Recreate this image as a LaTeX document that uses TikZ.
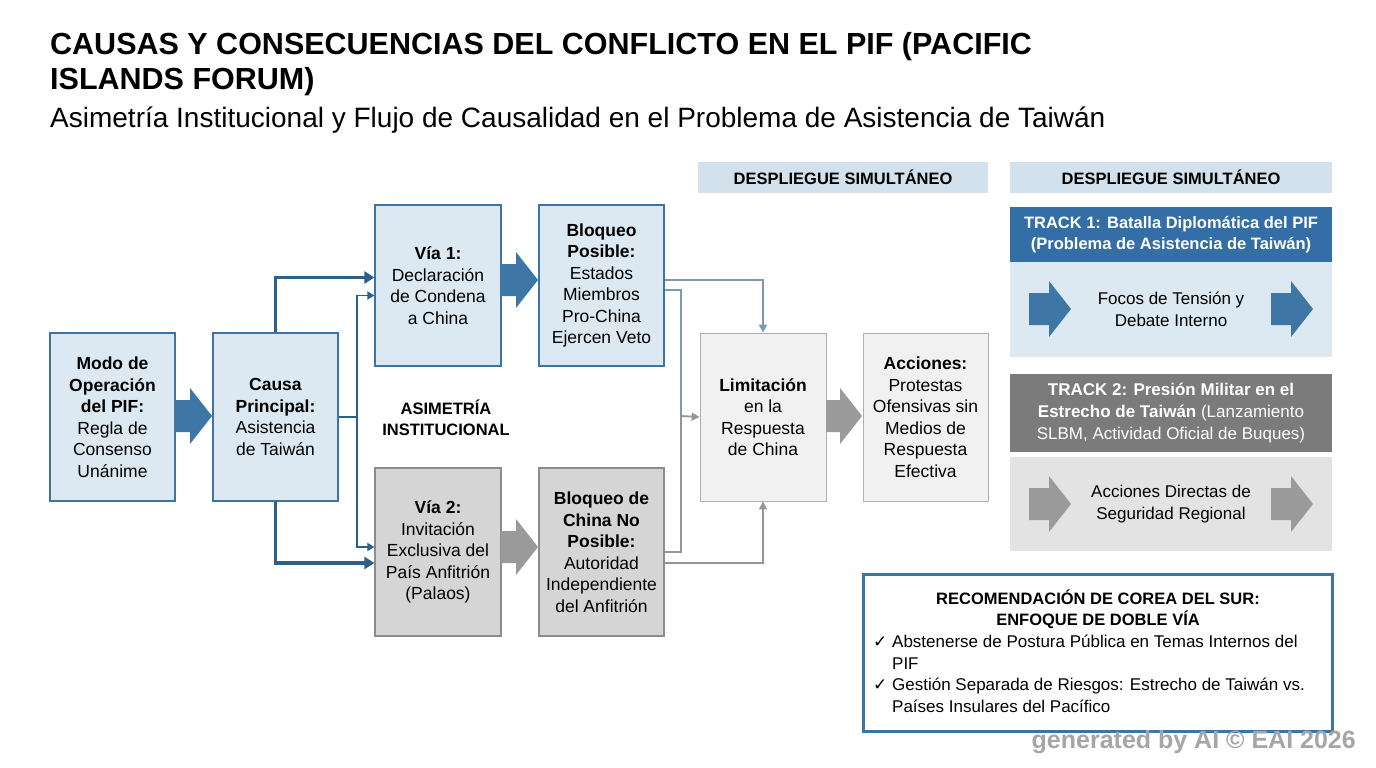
\documentclass[tikz,border=0pt]{standalone}
\usepackage{fontspec}
\setmainfont{Liberation Sans}
\newfontfamily\chk{DejaVu Sans}
\usetikzlibrary{arrows.meta}
\definecolor{bord}{HTML}{3D74A0}
\definecolor{lblue}{HTML}{DCE8F2}
\definecolor{gfill}{HTML}{D5D5D5}
\definecolor{gbord}{HTML}{8C8C8C}
\definecolor{vlg}{HTML}{F1F1F1}
\definecolor{hdr}{HTML}{D3E1EC}
\definecolor{dblue}{HTML}{336FA6}
\definecolor{dgrey}{HTML}{7B7B7B}
\definecolor{lgbody}{HTML}{E3E3E3}
\definecolor{conn}{HTML}{2E5F8A}
\definecolor{fatb}{HTML}{3E76A5}
\definecolor{fatg}{HTML}{9A9A9A}
\definecolor{thinb}{HTML}{7C99B5}
\definecolor{thing}{HTML}{959595}
\tikzset{
 box/.style={draw=bord, fill=lblue, line width=1.2pt, align=center, font=\fontsize{17.5}{21.5}\selectfont, inner sep=2pt},
 gbox/.style={box, draw=gbord, fill=gfill},
 wbox/.style={box, draw=gbord!70, fill=vlg, line width=0.8pt},
 thick conn/.style={draw=conn, line width=3.2pt, -{Triangle[length=10pt,width=12pt]}},
 thin conn/.style={draw=conn, line width=1.8pt, -{Triangle[length=7pt,width=8pt]}},
 lconn/.style={line width=1.8pt, -{Triangle[length=8pt,width=8pt]}},
}
\newcommand{\fatarr}[4]{% x1 x2 yc color
 \fill[#4] (#1,#3-16) -- (#2-22,#3-16) -- (#2-22,#3-28) -- (#2,#3) -- (#2-22,#3+28) -- (#2-22,#3+16) -- (#1,#3+16) -- cycle;}
\newcommand{\ck}{{\chk\char"2713}\ }
\begin{document}
\begin{tikzpicture}[x=1pt,y=-1pt]
\useasboundingbox (0,0) rectangle (1376,768);
\fill[white] (0,0) rectangle (1376,768);
% titles
\node[anchor=north west, inner sep=0, align=left, font=\bfseries\fontsize{30.5}{35}\selectfont] (title) at (50,32) {CAUSAS Y CONSECUENCIAS DEL CONFLICTO EN EL PIF (PACIFIC\\ISLANDS FORUM)};
\node[anchor=north west, inner sep=0, font=\fontsize{28}{30}\selectfont] (sub) at (50,107) {Asimetría Institucional y Flujo de Causalidad en el Problema de Asistencia de Taiwán};
% boxes
\node[box, minimum width=125, minimum height=168] (modo) at (112.5,417) {\textbf{Modo de}\\\textbf{Operación}\\\textbf{del PIF:}\\Regla de\\Consenso\\Unánime};
\node[box, minimum width=125, minimum height=168] (causa) at (275.5,417) {\textbf{Causa}\\\textbf{Principal:}\\Asistencia\\de Taiwán};
\node[box, minimum width=126, minimum height=161] (via1) at (438,285.5) {\textbf{Vía 1:}\\Declaración\\de Condena\\a China};
\node[box, minimum width=125, minimum height=161] (bl1) at (601.5,285.5) {\textbf{Bloqueo}\\\textbf{Posible:}\\Estados\\Miembros\\Pro-China\\Ejercen Veto};
\node[gbox, minimum width=126, minimum height=168] (via2) at (438,552) {\textbf{Vía 2:}\\Invitación\\Exclusiva del\\País Anfitrión\\(Palaos)};
\node[gbox, minimum width=125, minimum height=168] (bl2) at (601.5,552) {\textbf{Bloqueo de}\\\textbf{China No}\\\textbf{Posible:}\\Autoridad\\Independiente\\del Anfitrión};
\node[wbox, minimum width=126, minimum height=168] (lim) at (763,417) {\textbf{Limitación}\\en la\\Respuesta\\de China};
\node[wbox, minimum width=125, minimum height=168] (acc) at (925.5,417) {\textbf{Acciones:}\\Protestas\\Ofensivas sin\\Medios de\\Respuesta\\Efectiva};
\node[font=\bfseries\fontsize{16.5}{21}\selectfont, align=center] (asim) at (446,418) {ASIMETRÍA\\INSTITUCIONAL};
% fat arrows
\fatarr{175}{212}{416}{fatb}
\fatarr{501}{538}{280}{fatb}
\fatarr{501}{538}{547}{fatg}
\fatarr{826}{862}{416}{fatg}
% connectors from causa
\draw[thick conn] (causa.north) |- ([yshift=8pt]via1.west);
\draw[thick conn] (causa.south) |- ([yshift=-11pt]via2.west);
\coordinate (sp) at (357,417);
\draw[conn, line width=1.8pt] (causa.east) -- (sp);
\draw[thin conn] (sp) |- ([yshift=-10pt]via1.west);
\draw[thin conn] (sp) |- ([yshift=5pt]via2.west);
% connectors to limitacion
\draw[lconn, draw=thinb] ([yshift=5.5pt]bl1.east) -| (lim.north);
\coordinate (jx) at (681,416);
\draw[thinb, line width=1.8pt] ([yshift=-4.5pt]bl1.east) -| (jx);
\draw[thing, line width=1.8pt] (bl2.east) -| (jx);
\draw[lconn, draw=thing] (jx) -- (lim.west);
\draw[lconn, draw=thing] ([yshift=-11pt]bl2.east) -| (lim.south);
% right column
\node[fill=hdr, minimum width=290, minimum height=31, font=\bfseries\fontsize{16.5}{20}\selectfont] (h1) at (843,177) {DESPLIEGUE SIMULTÁNEO};
\node[fill=hdr, minimum width=322, minimum height=31, font=\bfseries\fontsize{16.5}{20}\selectfont] (h2) at (1171,177) {DESPLIEGUE SIMULTÁNEO};
\node[fill=dblue, text=white, minimum width=322, minimum height=55, align=center, font=\bfseries\fontsize{16.5}{21}\selectfont] (t1) at (1171,234.5) {TRACK 1: Batalla Diplomática del PIF\\(Problema de Asistencia de Taiwán)};
\node[fill=lblue, minimum width=322, minimum height=95, align=center, font=\fontsize{17}{22}\selectfont] (t1b) at (1171,309.5) {Focos de Tensión y\\Debate Interno};
\node[fill=dgrey, text=white, minimum width=322, minimum height=78, align=center, font=\fontsize{17}{22}\selectfont] (t2) at (1171,413) {\textbf{TRACK 2: Presión Militar en el}\\\textbf{Estrecho de Taiwán} (Lanzamiento\\SLBM, Actividad Oficial de Buques)};
\node[fill=lgbody, minimum width=322, minimum height=94, align=center, font=\fontsize{17}{22}\selectfont] (t2b) at (1171,504) {Acciones Directas de\\Seguridad Regional};
\fatarr{1029}{1071}{309}{fatb}
\fatarr{1271}{1313}{309}{fatb}
\fatarr{1029}{1071}{504}{fatg}
\fatarr{1271}{1313}{504}{fatg}
% recommendation
\node[draw=bord, line width=2.5pt, fill=white, minimum width=469, minimum height=157] (rec) at (1098,653) {};
\node[font=\bfseries\fontsize{16.5}{21}\selectfont, align=center] (rect) at (1098,609) {RECOMENDACIÓN DE COREA DEL SUR:\\ENFOQUE DE DOBLE VÍA};
\node[anchor=north west, inner sep=0, align=left, font=\fontsize{17}{21.5}\selectfont] (recl) at (873,635) {\ck Abstenerse de Postura Pública en Temas Internos del\\\hphantom{\ck}PIF\\\ck Gestión Separada de Riesgos: Estrecho de Taiwán vs.\\\hphantom{\ck}Países Insulares del Pacífico};
\node[anchor=east, inner sep=0, text=gray!70, font=\bfseries\fontsize{25}{26}\selectfont] (wm) at (1356,742) {generated by AI © EAI 2026};
\end{tikzpicture}
\end{document}
